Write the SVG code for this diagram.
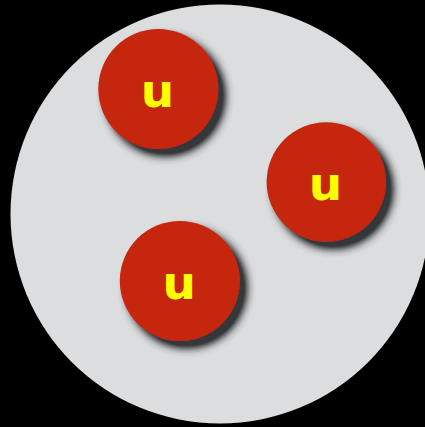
<svg xmlns="http://www.w3.org/2000/svg" width="425" height="427" viewBox="0 0 425 427">
  <defs>
    <filter id="shadow" x="-30%" y="-30%" width="170%" height="170%">
      <feGaussianBlur in="SourceAlpha" stdDeviation="4.5"/>
      <feOffset dx="7" dy="7" result="b"/>
      <feFlood flood-color="#35373a"/>
      <feComposite in2="b" operator="in" result="s"/>
      <feComponentTransfer in="s" result="s2">
        <feFuncA type="linear" slope="1.4" intercept="0"/>
      </feComponentTransfer>
      <feMerge>
        <feMergeNode in="s2"/>
        <feMergeNode in="SourceGraphic"/>
      </feMerge>
    </filter>
  </defs>
  <style>
    .quark { fill: #c52508; filter: url(#shadow); }
    .label { fill: #ffff00; font-family: "DejaVu Sans", "Liberation Sans", sans-serif; font-weight: bold; font-size: 47px; text-anchor: middle; }
  </style>
  <rect width="425" height="427" fill="#000"/>
  <!-- proton body -->
  <circle cx="220" cy="214" r="209.5" fill="#dcdddf"/>
  <g id="quark-1">
    <circle class="quark" cx="158.3" cy="89" r="60"/>
    <text class="label" x="157.5" y="107.3">u</text>
  </g>
  <g id="quark-2">
    <circle class="quark" cx="326.3" cy="182" r="59.7"/>
    <text class="label" x="325.6" y="200.3">u</text>
  </g>
  <g id="quark-3">
    <circle class="quark" cx="179.8" cy="281" r="60"/>
    <text class="label" x="179.2" y="299.3">u</text>
  </g>
</svg>
